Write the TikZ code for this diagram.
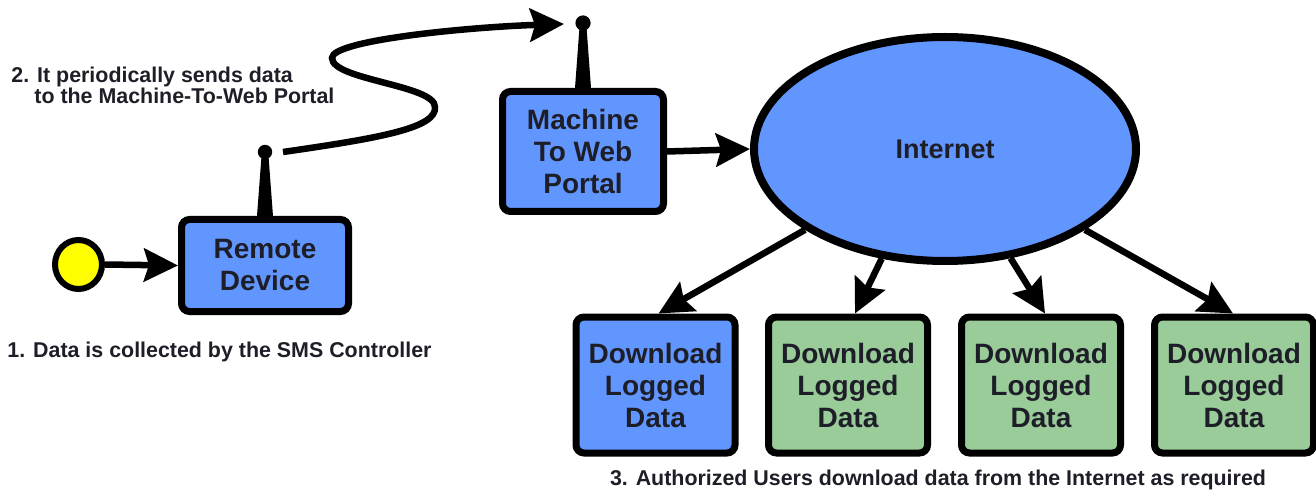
\documentclass[tikz,border=0pt]{standalone}
\usepackage{fontspec}
\setmainfont{Liberation Sans}
\usetikzlibrary{arrows.meta,shapes.geometric}
\definecolor{boxblue}{RGB}{98,150,255}
\definecolor{boxgreen}{RGB}{153,204,153}
\definecolor{dotyellow}{RGB}{255,255,0}
\definecolor{txt}{RGB}{30,30,40}
\tikzset{
  box/.style={draw=black, line width=3.5pt, rounded corners=4pt, align=center,
    text=txt, font=\bfseries\fontsize{14}{16}\selectfont, inner sep=0pt},
  bluebox/.style={box, fill=boxblue},
  greenbox/.style={box, fill=boxgreen},
  dlbox/.style={minimum width=79.5pt, minimum height=68pt},
  conn/.style={line width=3.25pt, -{Stealth[length=17pt,width=16.5pt,inset=2.5pt]}},
  caption/.style={text=txt, font=\bfseries\fontsize{10.7}{12.5}\selectfont, inner sep=0pt},
}
\begin{document}
\begin{tikzpicture}[x=0.5pt,y=-0.5pt]
\useasboundingbox (0,0) rectangle (1316,497);

% source dot
\node[ellipse, draw=black, line width=3pt, fill=dotyellow, minimum width=23.5pt, minimum height=24.5pt, inner sep=0pt] (src) at (78.5,264.5) {};

% remote device
\node[bluebox, minimum width=83.5pt, minimum height=46pt] (remote) at (265,265.5) {Remote\\Device};

% machine to web portal
\node[bluebox, minimum width=80.5pt, minimum height=60pt] (portal) at (583,151.5) {Machine\\To Web\\Portal};

% internet
\node[ellipse, draw=black, line width=4pt, fill=boxblue, minimum width=191pt, minimum height=112pt, inner sep=0pt,
  text=txt, font=\bfseries\fontsize{13.5}{16}\selectfont] (inet) at (945,149) {Internet};

% download boxes
\node[bluebox, dlbox] (d1) at (655.5,385) {Download\\Logged\\Data};
\node[greenbox, dlbox] (d2) at (848,385) {Download\\Logged\\Data};
\node[greenbox, dlbox] (d3) at (1041,385) {Download\\Logged\\Data};
\node[greenbox, dlbox] (d4) at (1234,385) {Download\\Logged\\Data};

% antennas
\coordinate (rant) at (265,152);
\coordinate (pant) at (583,23);
\fill[black] ([xshift=-4pt]remote.north) -- ([xshift=4pt]remote.north) -- ([xshift=1.6pt]rant) -- ([xshift=-1.6pt]rant) -- cycle;
\fill[black] (rant) circle (3.6pt);
\fill[black] ([xshift=-4pt]portal.north) -- ([xshift=4pt]portal.north) -- ([xshift=1.6pt]pant) -- ([xshift=-1.6pt]pant) -- cycle;
\fill[black] (pant) circle (3.8pt);

% connectors
\draw[conn] (src.east) -- (remote.west);
\coordinate (wstart) at (283,152);
\coordinate (wend) at (564,24);
\draw[conn] (wstart) .. controls (380,138) and (437,128) .. (435,107)
  .. controls (435,85) and (332,80) .. (332,58)
  .. controls (332,40) and (470,27) .. (wend);
\draw[conn] (portal.east) -- (inet.west);
\draw[conn] (inet.210) -- ([xshift=1.5pt]d1.north);
\draw[conn] (inet.240) -- ([xshift=3.5pt]d2.north);
\draw[conn] (inet.301) -- ([xshift=2pt]d3.north);
\draw[conn] (inet.330) -- ([xshift=-0.5pt]d4.north);

% captions
\node[caption, anchor=base west] (c2a) at (11,83) {2. It periodically sends data};
\node[caption, anchor=base west] (c2b) at (34,104) {to the Machine-To-Web Portal};
\node[caption, anchor=base west] (c1) at (7,357) {1. Data is collected by the SMS Controller};
\node[caption, anchor=base] (c3) at (938,485) {3. Authorized Users download data from the Internet as required};
\end{tikzpicture}
\end{document}
